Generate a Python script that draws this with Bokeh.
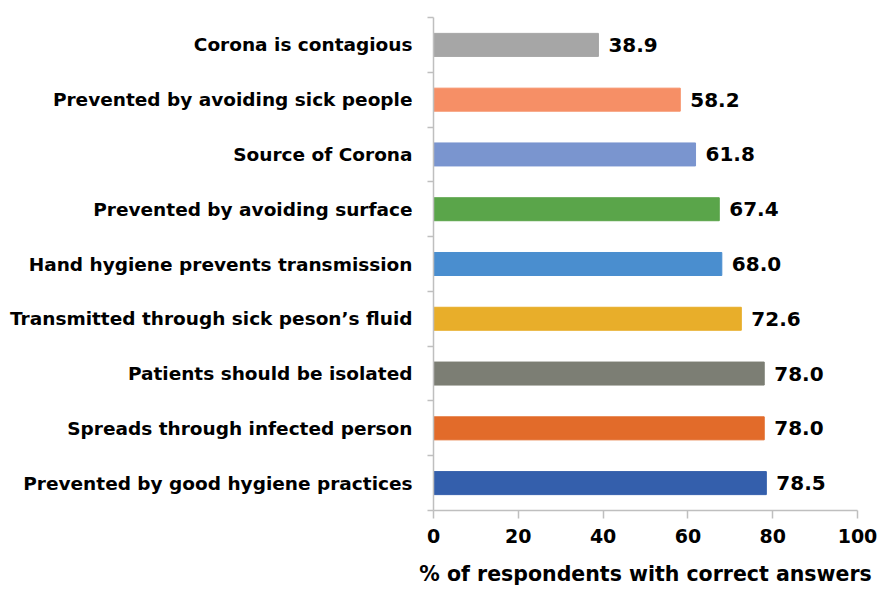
from bokeh.plotting import figure
from bokeh.models import ColumnDataSource, Range1d, FixedTicker
from bokeh.core.properties import value
from bokeh.embed import file_html
from bokeh.resources import INLINE

categories = [
    "Corona is contagious",
    "Prevented by avoiding sick people",
    "Source of Corona",
    "Prevented by avoiding surface",
    "Hand hygiene prevents transmission",
    "Transmitted through sick peson\u2019s fluid",
    "Patients should be isolated",
    "Spreads through infected person",
    "Prevented by good hygiene practices",
]
values = [38.9, 58.2, 61.8, 67.4, 68.0, 72.6, 78.0, 78.0, 78.5]
colors = ["#a6a6a6", "#f68f66", "#7a95cf", "#5aa54a", "#4a8ecf",
          "#e8ae2a", "#7c7e74", "#e26b2a", "#345fac"]
x_ticks = [0, 20, 40, 60, 80, 100]
x_title = "% of respondents with correct answers"

n = len(categories)
ypos = list(range(n))
src = ColumnDataSource(dict(
    y=ypos, v=values, c=colors,
    lbl=["%.1f" % v for v in values],
))

FONT = "DejaVu Sans"

p = figure(width=879, height=589, output_backend="svg", toolbar_location=None,
           x_range=Range1d(0, 100), y_range=Range1d(n - 0.5, -0.5),
           min_border_left=433, min_border_right=22, min_border_top=17,
           min_border_bottom=79)
p.outline_line_color = None
p.xgrid.visible = False
p.ygrid.visible = False
p.background_fill_color = "white"
p.border_fill_color = "white"

p.hbar(y="y", right="v", left=0, height=0.42, fill_color="c",
       line_color="c", source=src)
p.text(x="v", y="y", text="lbl", source=src, x_offset=10,
       text_baseline="middle", text_align="left",
       text_font=value(FONT), text_font_style="bold",
       text_font_size="20px", text_color="#000000")

# x axis
xa = p.xaxis[0]
xa.ticker = FixedTicker(ticks=x_ticks)
xa.axis_label = x_title
xa.axis_label_text_font = FONT
xa.axis_label_text_font_style = "bold"
xa.axis_label_text_font_size = "20.5px"
xa.axis_label_text_color = "#000000"
xa.axis_label_standoff = 16
xa.major_label_text_font = FONT
xa.major_label_text_font_style = "bold"
xa.major_label_text_font_size = "19px"
xa.major_label_text_color = "#000000"
xa.major_label_standoff = 10
xa.axis_line_color = "#bfbfbf"
xa.axis_line_width = 1.5
xa.major_tick_line_color = "#bfbfbf"
xa.major_tick_line_width = 1.5
xa.major_tick_out = 8
xa.major_tick_in = 0
xa.minor_tick_line_color = None

# y axis
ya = p.yaxis[0]
ya.ticker = FixedTicker(ticks=ypos, minor_ticks=[i - 0.5 for i in range(n + 1)])
ya.major_label_overrides = {i: c for i, c in enumerate(categories)}
ya.major_label_text_font = FONT
ya.major_label_text_font_style = "bold"
ya.major_label_text_font_size = "18.5px"
ya.major_label_text_color = "#000000"
ya.major_label_standoff = 15
ya.major_tick_out = 0
ya.major_tick_in = 0
ya.major_tick_line_color = None
ya.minor_tick_out = 6
ya.minor_tick_in = 0
ya.minor_tick_line_color = "#bfbfbf"
ya.minor_tick_line_width = 1.5
ya.axis_line_color = "#bfbfbf"
ya.axis_line_width = 1.5

open("out.html", "w").write(file_html(p, INLINE))
